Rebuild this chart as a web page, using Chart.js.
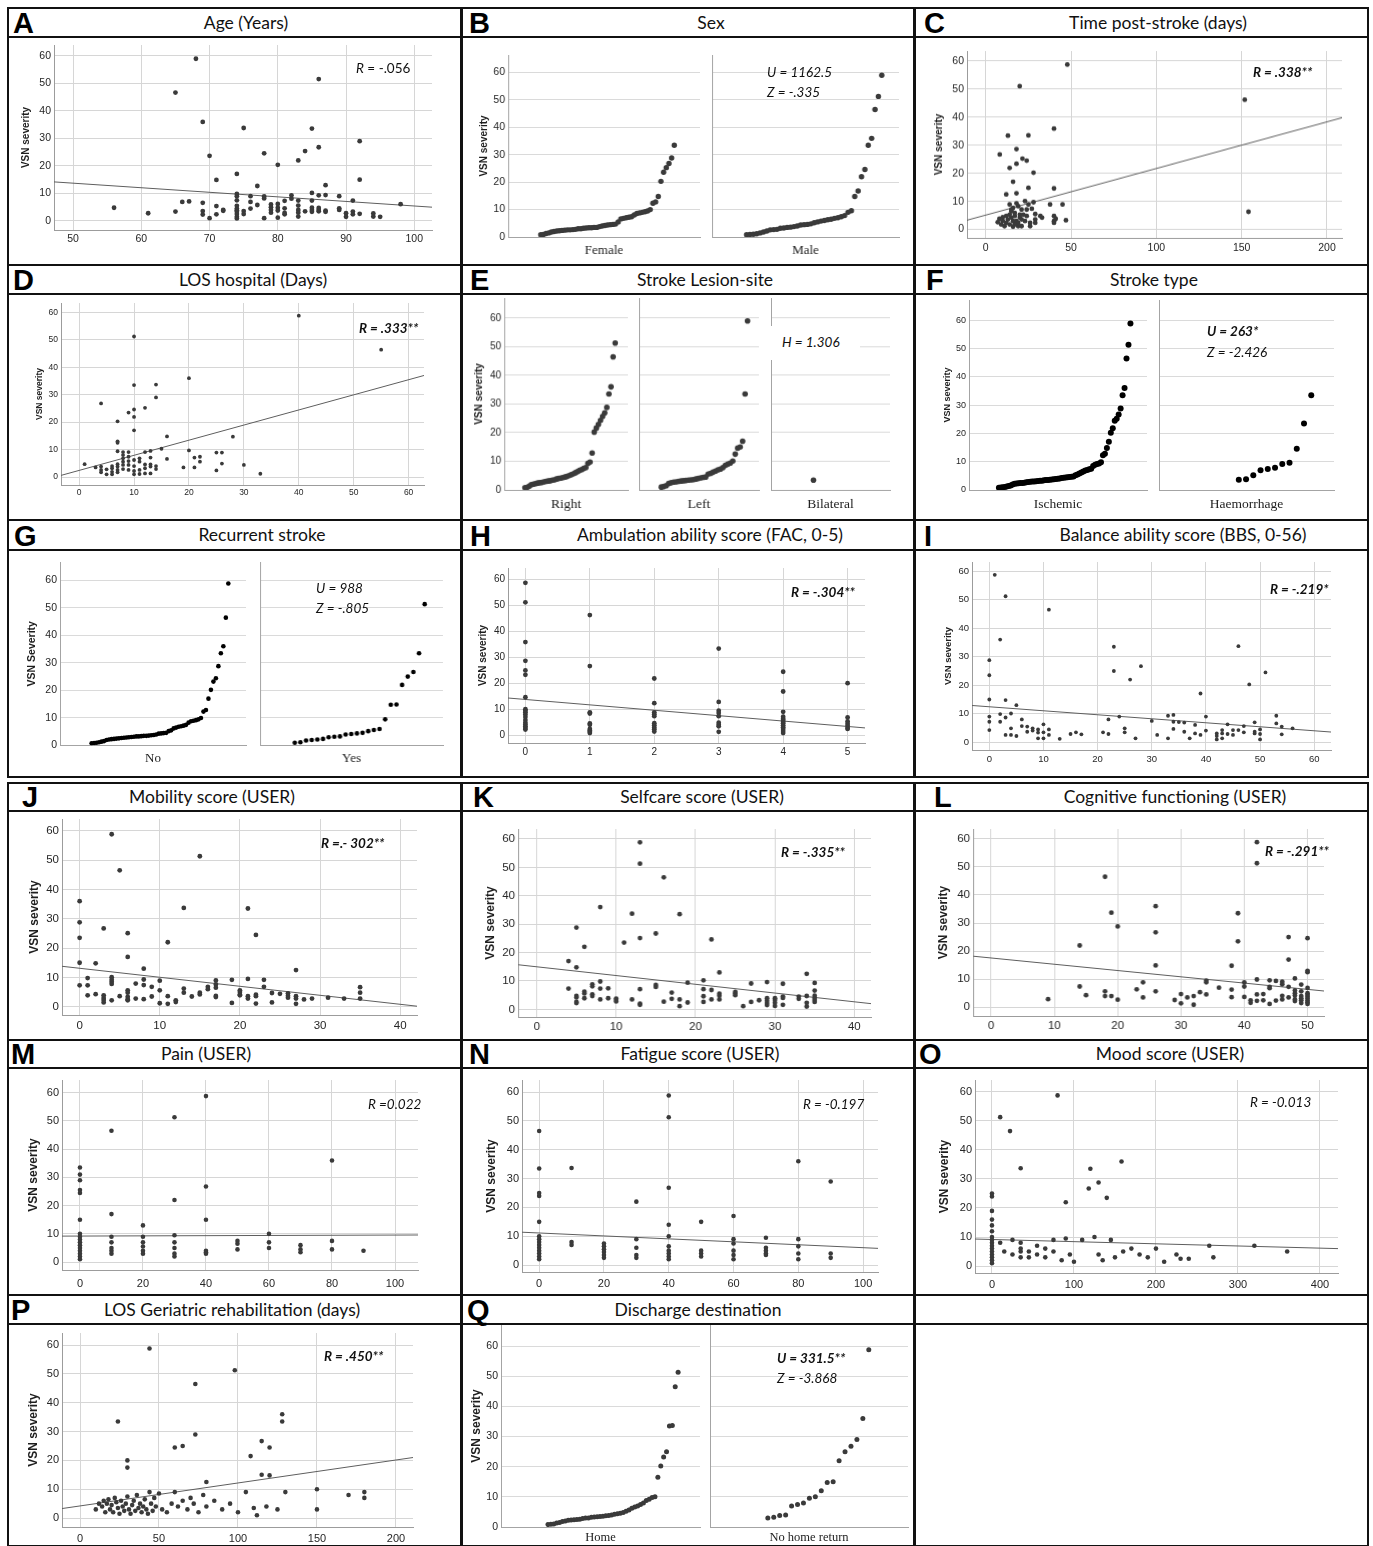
<!DOCTYPE html>
<html><head><meta charset="utf-8">
<script src="https://cdn.jsdelivr.net/npm/chart.js@4.4.0/dist/chart.umd.min.js"></script>
<style>
body{margin:0;background:#fff;width:1373px;height:1546px;position:relative;overflow:hidden;font-family:'Liberation Sans',Arial,sans-serif}
.cell{position:absolute;border:2px solid #111;box-sizing:border-box}
.bar{position:absolute;left:0;right:0;top:0;border-bottom:2px solid #111}
.letter{position:absolute;font:bold 29px 'Liberation Sans';color:#000;line-height:1}
.title{position:absolute;font:17.5px Lato;color:#111;transform:translateX(-50%);white-space:nowrap;text-align:center}
.note{position:absolute;font:italic 13.5px Lato;color:#111;white-space:nowrap;line-height:1}
.note b{font-weight:bold}
canvas{position:absolute}
</style></head><body>
<script>
// tick labels
var vsnTicks = [0, 10, 20, 30, 40, 50, 60];
var ageTicks = [50, 60, 70, 80, 90, 100];
var timeTicks = [0, 50, 100, 150, 200];
var losTicks = [0, 10, 20, 30, 40, 50, 60];
var facTicks = [0, 1, 2, 3, 4, 5];
var bbsTicks = [0, 10, 20, 30, 40, 50, 60];
var userTicks = [0, 10, 20, 30, 40];
var cogTicks = [0, 10, 20, 30, 40, 50];
var pctTicks = [0, 20, 40, 60, 80, 100];
var moodTicks = [0, 100, 200, 300, 400];
var rehabTicks = [0, 50, 100, 150, 200];

// A age
var ageData = [[56,4.8],[61,2.8],[65,46.7],[65,3.4],[66,6.9],[67,7.1],[68,59],[69,36],[69,6.6],[69,3.6],[69,2.3],[70,23.7],[70,1],[71,14.9],[71,5.4],[71,2.4],[72,4],[72,3.7],[74,17.1],[74,9.8],[74,9],[74,7.5],[74,5.5],[74,4.5],[74,3.9],[74,3.3],[74,2.5],[74,1.5],[74,0.9],[75,33.8],[75,3.6],[75,2.5],[76,9],[76,6.9],[76,4.5],[77,12.7],[77,5.8],[78,24.6],[78,8.9],[78,8.2],[78,1],[79,6],[79,5],[79,4],[79,3],[80,20.4],[80,6.2],[80,4.8],[80,3.8],[80,1.2],[81,7.3],[81,4.6],[81,2.9],[81,2.4],[82,9.3],[82,8.1],[83,22],[83,7.4],[83,5.6],[83,4],[83,3],[83,1.6],[84,25.4],[84,3.5],[85,33.6],[85,10.2],[85,7.4],[85,4.8],[85,4],[85,3.3],[86,51.6],[86,26.8],[86,9.3],[86,4.7],[86,4],[86,3.5],[87,13],[87,9.4],[87,3.7],[87,3.3],[89,9],[89,4.6],[89,4],[90,2.8],[90,1.5],[91,7.4],[91,3.4],[91,2.4],[92,29],[92,15],[92,2.6],[94,2.7],[94,1.6],[95,1.5],[98,6.1]];
var ageTrend = [[47.2,14.2],[102.6,5]];

// B sex
var sexFemale = [0.8,0.9,1.3,1.5,1.8,2,2.2,2.3,2.4,2.5,2.6,2.6,2.7,2.8,3,3,3.2,3.3,3.4,3.4,3.5,3.5,3.8,4,4.2,4.4,4.5,4.6,4.7,5.5,6.6,6.8,7,7.2,7.4,8,8.6,8.8,9,9.2,9.5,10,12.3,12.8,14.8,20.3,23.6,25.3,26.8,28.8,33.5];
var sexMale = [0.8,0.9,1,1.2,1.5,1.8,2.2,2.6,2.7,2.8,3.2,3.3,3.5,3.6,3.8,4,4.4,4.5,4.6,4.8,5.2,5.5,5.8,6,6.3,6.5,6.8,7,7.4,7.8,9,9.6,14.8,16.8,22,24.6,33.5,36,46.5,51.3,59];

// C time post-stroke
var timeData = [[47.8,58.7],[19.9,51],[151.8,46.2],[40,35.9],[13,33.4],[25,33.5],[18,28.6],[8.2,26.7],[21.5,25.2],[24,24.5],[18,23.4],[14,21.9],[28,20.2],[16,17],[25,14.8],[40,14.6],[12,12.5],[18,12.9],[14,8.9],[18,9.3],[23,10.1],[28,9.7],[25,8.9],[37.7,8.9],[45,8.9],[16,7.7],[19,8.3],[21,7.1],[24,7.1],[27,7.4],[15,6.5],[17,5.9],[20,5.3],[29,5.5],[24,4.8],[32,4.8],[33,4.2],[40,4.8],[40,3],[41,3.8],[47,3.3],[40,2.4],[29,3.6],[29,2.4],[23,3],[26,2.4],[26,1.2],[21,1.2],[19,1.2],[16,1],[14,1.8],[12,2.4],[10,3],[8,3.8],[9,1.8],[7,2.6],[11,1.2],[13,3.6],[15,4.2],[17,4.8],[18,3],[20,4.2],[22,5.3],[14,5.3],[16,3],[19,2.4],[10,4.4],[12,4.8],[21,3.6],[17,1.8],[15,7.1],[154,6.3]];
var timeTrend = [[-11,3.3],[209,39.8]];

// D LOS hospital
var losData = [[40,58.8],[10,51.2],[55,46.4],[20,36],[10,33.5],[14,33.7],[14,29],[4,26.8],[12,25.2],[10,24.6],[9,23.5],[10,21.9],[7,20.3],[10,17],[16,14.8],[28,14.7],[7,13],[7,12.5],[15,10.3],[20,9.7],[7,9.4],[8,9.1],[9,9.1],[12,9.1],[13,9.5],[25,8.9],[26,8.9],[21,7.1],[22,7.4],[22,5.6],[16,6.6],[1,4.7],[3,3.5],[4,3.8],[4,2.6],[4,1.7],[5,2.8],[5,1],[6,4],[6,3.2],[6,1.9],[6,1],[7,4.7],[7,3.8],[7,2.6],[7,1.7],[8,8],[8,6.8],[8,5.6],[8,4.4],[8,2.9],[9,7.4],[9,5.8],[9,4.4],[9,2.6],[10,6.2],[10,4],[10,2.2],[10,1],[11,6.8],[11,5.6],[11,2.6],[11,1.1],[12,4.6],[12,3.2],[12,1.3],[13,7.1],[13,4.6],[13,3.8],[13,1.3],[14,4],[14,2.9],[19,3.5],[21,3.5],[25,2.4],[26,4.9],[30,4.4],[33,1.2]];
var losTrend = [[-3.3,0.6],[62.8,37]];

// E lesion site
var lesionRight = [0.8,0.9,1.3,1.8,2,2.2,2.4,2.5,2.6,2.8,3,3.1,3.2,3.4,3.5,3.8,4,4.1,4.3,4.5,4.7,5,5.3,5.6,6,6.4,6.8,7.1,7.5,7.8,9.3,9.7,12.9,20.2,21.6,22.9,24.3,25.7,26.9,28.8,33.5,36,46.5,51.3];
var lesionLeft = [1,1.2,1.5,2.3,2.5,2.7,2.8,3,3.1,3.2,3.3,3.4,3.5,3.6,3.8,4,4.2,4.4,4.5,5.5,5.8,6.2,6.6,7,7.3,7.8,8.6,9,9.4,10.1,12.5,14.6,15,17,33.5,59];
var lesionBilateral = [3.4];

// F stroke type
var typeIschemic = [0.8,0.9,1,1.1,1.2,1.4,1.6,1.9,2.2,2.3,2.4,2.5,2.5,2.6,2.7,2.8,2.9,3,3,3.1,3.2,3.3,3.3,3.4,3.5,3.5,3.6,3.7,3.8,3.9,4,4.1,4.2,4.3,4.4,4.5,4.6,4.7,4.8,5.2,5.5,5.8,6.2,6.5,6.9,7.1,7.3,7.5,8.5,8.9,9.2,9.4,9.8,12.3,12.8,14.8,17,20.2,21.8,24.5,25.2,26.7,28.8,33.5,36,46.4,51.3,58.8];
var typeHaem = [3.6,3.8,5.2,7,7.4,7.9,9.2,9.6,14.6,23.5,33.5];

// G recurrent stroke
var recurNo = [0.8,0.9,1,1.2,1.4,1.6,2,2.2,2.3,2.4,2.5,2.6,2.7,2.8,2.9,3,3.1,3.2,3.3,3.3,3.4,3.5,3.5,3.6,3.7,3.8,4,4.3,4.4,4.5,4.6,5.2,5.5,6.2,6.5,6.8,7,7.2,7.5,8.3,8.8,9,9.2,9.5,10,12.3,12.9,17,20.2,23.2,24.4,28.8,33.5,36,46.4,58.8];
var recurYes = [1,1.2,1.8,2,2.2,2.4,3,3.2,3.3,4,4.2,4.4,4.6,5.2,5.6,6,9.5,14.8,14.9,22,25,26.7,33.5,51.3];

// H FAC
var facData = [[0,58.8],[0,51.3],[0,36],[0,28.8],[0,25.1],[0,23.4],[0,14.8],[0,10.2],[0,9.6],[0,9],[0,8.2],[0,7.2],[0,6],[0,5],[0,4.3],[0,3.6],[0,3],[0,2.4],[1,46.4],[1,26.8],[1,9],[1,8.5],[1,4.7],[1,4.2],[1,2.6],[1,2],[1,1.5],[1,1],[2,22],[2,12.5],[2,9],[2,8.3],[2,7.5],[2,4.8],[2,4],[2,3.2],[2,2.5],[2,1.6],[3,33.5],[3,13],[3,9.6],[3,8.7],[3,7.5],[3,5],[3,4.2],[3,3.6],[3,1.5],[4,24.6],[4,17],[4,9.2],[4,7.3],[4,6.5],[4,6],[4,5.4],[4,4.8],[4,4],[4,3.3],[4,2.6],[4,1.8],[4,1],[5,20.2],[5,7],[5,5.5],[5,4.6],[5,3.8],[5,3],[5,2.6]];
var facTrend = [[-0.27,14.5],[5.27,3]];

// I BBS
var bbsData = [[1,58.7],[3,51.2],[11,46.5],[2,36],[0,28.8],[0,23.5],[0,15],[3,14.8],[5,13],[2,9.9],[4,10.1],[0,9],[3,8.7],[0,7.2],[2,7.2],[0,4.3],[6,8],[6,5.7],[4,4.9],[7,5.5],[7,3.7],[8,4.9],[8,4.1],[9,4.5],[9,3.4],[9,1.4],[10,6.3],[10,3.5],[10,1.4],[11,4.5],[11,2.6],[3,2.6],[4,2.6],[5,2.2],[13,1.2],[15,2.9],[16,3.5],[17,2.8],[21,3.5],[22,2.9],[22,8],[23,33.5],[23,25],[24,9],[25,4.9],[25,3.5],[26,22],[27,1.4],[28,26.7],[30,7.5],[31,2.6],[33,1.4],[33,9.3],[34,9.6],[34,7.2],[34,4.7],[35,7.1],[36,6.9],[36,3.7],[37,1.4],[38,6.1],[38,3.1],[39,2.6],[39,17.1],[40,9],[40,4.1],[42,3.1],[42,2.2],[42,1],[43,4.3],[43,3.1],[43,1.4],[44,6.3],[44,2.9],[45,4.3],[45,2.6],[46,33.7],[46,4.3],[47,5.7],[47,3.5],[48,20.3],[49,7],[49,3.7],[49,3.1],[50,4.5],[50,2.9],[50,1],[51,24.5],[53,9.3],[53,6.6],[54,5.5],[54,2.8],[56,4.9]];
var bbsTrend = [[-3.2,12.9],[63.1,3.6]];

// J mobility
var mobData = [[0,36],[0,28.8],[0,23.5],[0,15],[0,7.3],[1,9.8],[1,7.3],[1,3.9],[2,14.8],[2,4.3],[3,26.7],[3,3.9],[3,3],[3,2.3],[3,1.5],[4,58.8],[4,10.1],[4,9.2],[4,8.5],[4,7.8],[4,2.2],[5,46.5],[5,3.6],[6,25.1],[6,17],[6,5.6],[6,4.8],[6,3.4],[6,2.6],[6,2.2],[7,7.9],[7,2.8],[8,13],[8,9.3],[8,7.4],[8,2.6],[9,6.8],[9,3.5],[10,8.9],[10,5.6],[10,1.2],[11,22],[11,3.6],[11,1],[12,2.2],[12,1.6],[13,33.7],[13,6.2],[13,4.8],[14,3.5],[15,51.3],[15,4.8],[15,4.2],[16,6.8],[16,6],[17,9],[17,7.6],[17,6.5],[17,3.7],[17,3.3],[19,9.2],[19,1.3],[20,5.6],[20,5],[20,4.2],[20,3.9],[21,33.5],[21,9.5],[21,3.6],[21,2.8],[22,24.5],[22,4.1],[22,3.6],[22,1.1],[23,9.2],[23,6.8],[24,4.7],[24,1.5],[25,4.4],[26,4.6],[26,3.8],[26,3.1],[27,12.5],[27,3.6],[27,2.8],[27,1],[28,2.5],[29,2.8],[31,3.1],[33,2.8],[35,6.7],[35,4.8],[35,2.8]];
var mobTrend = [[-2.2,13.8],[42.1,0.2]];

// K selfcare
var selfData = [[4,17],[4,7.3],[5,28.8],[5,14.8],[5,4.7],[5,4.2],[5,2.6],[5,2.2],[6,22],[6,6.2],[6,5.6],[6,3.9],[7,8.8],[7,8.1],[7,5.3],[7,4.7],[8,36],[8,9.8],[8,7.3],[8,3.5],[9,7.4],[9,3.9],[10,3.8],[10,3.3],[10,2.8],[11,23.5],[12,33.7],[12,3.5],[13,58.8],[13,51.3],[13,25.1],[13,7.1],[13,2],[13,1.6],[15,26.7],[15,8.6],[15,7.9],[16,46.5],[16,2.7],[17,5.9],[17,3.7],[18,33.5],[18,3.5],[18,1.1],[19,9.4],[19,2.4],[21,10.2],[21,7.1],[21,4.6],[21,2.6],[22,24.6],[22,6.8],[22,3.5],[23,13],[23,5.5],[23,4.8],[23,3.5],[25,6.1],[25,5.6],[25,5],[26,1.1],[27,9.1],[27,2.6],[28,3.2],[29,9.6],[29,3.9],[29,3],[29,2.2],[29,1.5],[30,3.9],[30,3.3],[30,2.3],[30,1.2],[31,9],[31,4.5],[31,4],[31,1.6],[33,4.5],[33,3.7],[34,12.5],[34,4.7],[34,2.3],[34,1],[35,9.3],[35,6.6],[35,4.8],[35,4],[35,3.3],[35,2.6]];
var selfTrend = [[-2.35,15.7],[42.1,2]];

// L cognitive
var cogData = [[9,2.9],[14,22],[14,7.4],[15,4.3],[18,46.5],[18,5.7],[18,4],[19,33.7],[19,4],[20,28.8],[20,2.7],[23,6.4],[24,8.9],[24,3.5],[26,36],[26,26.7],[26,14.9],[26,5.7],[29,2.6],[30,4.7],[30,1.4],[31,3.5],[32,4],[32,0.9],[33,5.4],[34,9.5],[34,8.9],[34,4.6],[36,7],[38,14.8],[38,6.3],[38,3.6],[39,33.5],[39,23.5],[40,8.9],[40,7.4],[40,3.7],[41,2.5],[41,1.6],[42,58.8],[42,51.3],[42,9.9],[42,4.6],[42,2.3],[43,4.7],[43,2.5],[44,9.6],[44,7.3],[44,6.8],[44,1.2],[45,9.4],[45,2.4],[46,9.1],[46,8.2],[46,4.1],[46,2.8],[47,25],[47,17],[47,7.3],[47,3.5],[48,10.3],[48,6],[48,5],[48,4.2],[48,2.8],[48,2.2],[49,8.1],[49,5.7],[49,4],[49,3.2],[49,2.5],[49,1.5],[50,24.6],[50,13],[50,12.5],[50,6.9],[50,5],[50,4.4],[50,3.8],[50,3.1],[50,2.4],[50,1.8],[50,1.2]];
var cogTrend = [[-2.85,18.2],[52.6,5.8]];

// M pain
var painData = [[0,33.5],[0,31],[0,29],[0,25.5],[0,24.5],[0,15],[0,10],[0,9],[0,8],[0,7],[0,6],[0,5],[0,4],[0,3],[0,2],[0,1],[10,46.5],[10,17],[10,9],[10,7],[10,5],[10,4],[10,3],[20,13],[20,9],[20,7],[20,5.5],[20,4],[20,3],[30,51.3],[30,22],[30,9.5],[30,7],[30,5],[30,3],[30,2],[40,58.8],[40,26.8],[40,15],[40,4],[40,3.5],[40,3],[50,7.5],[50,6.5],[50,4.5],[60,10],[60,7],[60,5],[70,6],[70,4.5],[70,3.5],[80,36],[80,7.5],[80,4.5],[90,4]];
var painTrend = [[-5.7,9.2],[107.3,9.6]];

// N fatigue
var fatigueData = [[0,46.5],[0,33.5],[0,25],[0,24],[0,15],[0,10],[0,9],[0,8],[0,7],[0,6],[0,5],[0,4],[0,3],[0,2],[10,33.7],[10,8],[10,7],[20,7.5],[20,6.5],[20,5.5],[20,4.5],[20,3.5],[20,2.5],[30,22],[30,9],[30,6],[30,3.5],[30,2.5],[40,58.8],[40,51.3],[40,26.8],[40,14],[40,10],[40,6.5],[40,5],[40,4],[40,3],[40,2],[50,15],[50,5],[50,4],[50,3],[60,17],[60,9],[60,7.5],[60,5],[60,3.5],[60,2],[70,9.5],[70,6],[70,5],[70,4],[70,3.5],[80,36],[80,9],[80,6.5],[80,4],[80,2],[90,29],[90,4],[90,2.5]];
var fatigueTrend = [[-5.3,11.4],[104.6,5.8]];

// O mood
var moodData = [[0,25],[0,24],[0,19],[0,16],[0,14],[0,12],[0,10],[0,9],[0,8],[0,7],[0,6],[0,5],[0,4],[0,3],[0,2],[0,1],[10,51.3],[10,8],[15,5],[22,46.5],[25,9],[25,4],[35,33.7],[35,8],[35,6],[35,5],[35,3],[45,5],[45,3],[55,7],[55,4],[65,6],[65,3],[75,9],[75,5],[80,58.8],[85,2],[90,22],[90,9.5],[95,4],[100,1.5],[110,9],[118,26.7],[120,33.5],[125,10],[130,28.8],[130,4],[135,2],[140,23.5],[145,9],[150,3],[158,36],[160,5],[170,6],[180,4],[190,3],[200,6],[210,1.5],[225,4],[230,2.5],[240,2.5],[265,7],[270,3],[320,7],[360,5]];
var moodTrend = [[-20.7,9.3],[422,6]];

// P LOS geriatric rehabilitation
var rehabData = [[24,33.5],[30,20],[30,17.5],[44,58.8],[60,24.5],[65,25],[73,46.5],[73,29],[80,12.5],[98,51.3],[108,21.5],[115,26.7],[115,15],[120,24.5],[120,14.8],[128,36],[128,33.5],[150,10],[150,3],[170,8],[180,9],[180,7],[10,3],[12,5],[14,4],[15,6],[16,2],[17,5],[18,6.5],[19,3],[20,4.5],[21,2],[22,7],[23,5.5],[24,3.5],[25,1.5],[26,6],[27,4],[28,2.5],[29,5],[30,7.5],[31,3],[32,1.5],[33,4.5],[34,6],[35,2.5],[36,8],[37,3.5],[38,5],[39,2],[40,4],[41,6.5],[42,3],[43,1.5],[44,9],[45,5],[46,2.5],[47,7],[48,4],[50,8.5],[52,3],[55,2],[58,5],[60,9],[62,4],[65,6],[68,3],[70,7],[72,5],[75,2],[78,8],[80,4],[85,6],[90,3],[95,5],[100,2],[105,9],[110,3.5],[112,1],[118,4],[125,3],[130,9]];
var rehabTrend = [[-11.4,3.3],[210.8,21]];

// Q discharge destination
var dischHome = [0.8,0.9,1,1.3,1.5,1.8,2,2.2,2.3,2.4,2.5,2.6,2.8,3,3,3.2,3.3,3.4,3.5,3.6,3.7,3.8,4,4.2,4.4,4.6,4.8,5.2,5.6,6.2,6.6,7,7.5,8,8.8,9.2,9.8,10,16.5,20.2,23.2,25,33.5,33.7,46.5,51.3];
var dischNoHome = [3,3.2,3.8,4,7,7.5,8,9.5,10,12,14.8,15,22,25,26.8,29,36,58.8];

Chart.defaults.font.family = 'Liberation Sans';

var cols = [8, 461, 914];
var rows = [[8,35,265],[265,292,520],[520,548,777],[783,809,1040],[1040,1066,1295],[1295,1322,1546]];

function cell(col, row, letter, lx, title, tx) {
  var r = rows[row], x = cols[col];
  var d = document.createElement('div');
  d.className = 'cell';
  d.style.left = (x - 1) + 'px';
  d.style.top = (r[0] - 1) + 'px';
  d.style.width = '456px';
  d.style.height = (r[2] - r[0] + 2) + 'px';
  var b = document.createElement('div');
  b.className = 'bar';
  b.style.height = (r[1] - r[0]) + 'px';
  d.appendChild(b);
  document.body.appendChild(d);
  if (!letter) return;
  var l = document.createElement('div');
  l.className = 'letter';
  l.textContent = letter;
  l.style.left = (x + lx) + 'px';
  l.style.top = (r[1] - 26) + 'px';
  document.body.appendChild(l);
  var t = document.createElement('div');
  t.className = 'title';
  t.textContent = title;
  t.style.left = tx + 'px';
  t.style.top = (r[0] + 1) + 'px';
  t.style.lineHeight = (r[1] - r[0]) + 'px';
  document.body.appendChild(t);
}

function note(html, x, y, bg) {
  var n = document.createElement('div');
  n.className = 'note';
  n.innerHTML = html;
  n.style.left = x + 'px';
  n.style.top = (y - 7) + 'px';
  if (bg) { n.style.background = '#fff'; n.style.padding = bg; }
  document.body.appendChild(n);
}

function makeCanvas(left, top, w, h) {
  var c = document.createElement('canvas');
  c.style.left = left + 'px';
  c.style.top = top + 'px';
  c.width = w; c.height = h;
  c.style.width = w + 'px';
  c.style.height = h + 'px';
  document.body.appendChild(c);
  return c;
}

function fixTicks(list) {
  return function (s) { s.ticks = list.map(function (v) { return {value: v}; }); };
}

function scatter(o) {
  var m = 12, xh = 24;
  var b = o.box;
  var c = makeCanvas(b[0] - o.yw, b[1] - m, b[2] - b[0] + o.yw + m, b[3] - b[1] + m + xh);
  new Chart(c, {
    type: 'scatter',
    data: {datasets: [
      {data: o.pts.map(function (p) { return {x: p[0], y: p[1]}; }), pointRadius: o.r || 2.4,
       pointBackgroundColor: '#3a3a3a', pointBorderWidth: 0},
      {data: o.trend.map(function (p) { return {x: p[0], y: p[1]}; }), showLine: true, pointRadius: 0,
       borderColor: '#5e5e5e', borderWidth: 1, fill: false}
    ]},
    options: {
      responsive: false, animation: false, events: [],
      plugins: {legend: {display: false}, tooltip: {enabled: false}},
      layout: {padding: {top: m, right: m, left: 0, bottom: 0}},
      scales: {
        x: {type: 'linear', min: o.xr[0], max: o.xr[1], afterBuildTicks: fixTicks(o.xticks),
            grid: {color: '#d6d6d6', drawTicks: false}, border: {color: '#9c9c9c'},
            ticks: {font: {size: o.fs}, color: '#262626', padding: o.xp, maxRotation: 0},
            afterFit: function (s) { s.height = xh; }},
        y: {min: o.yr[0], max: o.yr[1], afterBuildTicks: fixTicks(vsnTicks),
            grid: {color: '#d6d6d6', drawTicks: false}, border: {color: '#9c9c9c'},
            ticks: {font: {size: o.fs}, color: '#262626', padding: 3},
            title: {display: true, text: 'VSN severity', color: '#1e1e1e', padding: 0,
                    font: {size: o.tfs, weight: 'bold'}},
            afterFit: function (s) { s.width = o.yw; }}
      }
    }
  });
}

function rankRange(n, s0, s1) {
  if (n < 2) return [-s0, 1 - s0];
  var w = (n - 1) / (s1 - s0);
  var mn = -s0 * w;
  return [mn, mn + w];
}

function facets(o) {
  o.groups.forEach(function (vals, i) {
    var m = 12;
    var first = i === 0;
    var yw = first ? o.yw : 0;
    var l = o.cols[i][0], r = o.cols[i][1];
    var c = makeCanvas(l - yw, o.top - m, r - l + yw + m, o.bottom - o.top + m + o.xh);
    var xr = rankRange(vals.length, o.spans[i][0], o.spans[i][1]);
    new Chart(c, {
      type: 'scatter',
      data: {datasets: [{data: vals.map(function (v, k) { return {x: k, y: v}; }), pointRadius: o.r,
                         pointBackgroundColor: o.color, pointBorderWidth: 0}]},
      options: {
        responsive: false, animation: false, events: [],
        plugins: {legend: {display: false}, tooltip: {enabled: false}},
        layout: {padding: {top: m, right: m, left: 0, bottom: 0}},
        scales: {
          x: {type: 'linear', min: xr[0], max: xr[1], grid: {display: false}, border: {color: '#a4a4a4'},
              ticks: {display: false},
              title: {display: true, text: o.labels[i], color: '#222', padding: 0,
                      font: {family: 'Liberation Serif', size: o.lfs || 13}},
              afterFit: function (s) { s.height = o.xh; }},
          y: {min: o.yr[0], max: o.yr[1], afterBuildTicks: fixTicks(vsnTicks),
              grid: {color: '#dadada', drawTicks: false}, border: {color: '#a4a4a4'},
              ticks: {display: first, font: {size: o.fs}, color: '#262626', padding: 3},
              title: {display: first, text: o.ytitle || 'VSN severity', color: '#1e1e1e', padding: 0,
                      font: {size: o.tfs, weight: 'bold'}},
              afterFit: function (s) { s.width = yw; }}
        }
      }
    });
  });
}

// frame
cell(0, 0, 'A', 5, 'Age (Years)', 246);
cell(1, 0, 'B', 8, 'Sex', 711);
cell(2, 0, 'C', 10, 'Time post-stroke (days)', 1158);
cell(0, 1, 'D', 5, 'LOS hospital (Days)', 253);
cell(1, 1, 'E', 9, 'Stroke Lesion-site', 705);
cell(2, 1, 'F', 12, 'Stroke type', 1154);
cell(0, 2, 'G', 6, 'Recurrent stroke', 262);
cell(1, 2, 'H', 9, 'Ambulation ability score (FAC, 0-5)', 710);
cell(2, 2, 'I', 10, 'Balance ability score  (BBS, 0-56)', 1183);
cell(0, 3, 'J', 14, 'Mobility score (USER)', 212);
cell(1, 3, 'K', 12, 'Selfcare score (USER)', 702);
cell(2, 3, 'L', 20, 'Cognitive functioning (USER)', 1175);
cell(0, 4, 'M', 3, 'Pain (USER)', 206);
cell(1, 4, 'N', 8, 'Fatigue score  (USER)', 700);
cell(2, 4, 'O', 5, 'Mood score (USER)', 1170);
cell(0, 5, 'P', 3, 'LOS Geriatric rehabilitation (days)', 232);
cell(1, 5, 'Q', 6, 'Discharge destination', 698);
cell(2, 5, '', 0, '', 0);

// charts
scatter({box: [54,45,432,230], xr: [47.2,102.6], yr: [-3.3,64], xticks: ageTicks, pts: ageData, trend: ageTrend, fs: 10.5, xp: 2.7, yw: 34, tfs: 10});
facets({groups: [sexFemale, sexMale], labels: ['Female', 'Male'], cols: [[508.3,700],[708.3,899]], spans: [[0.17,0.866],[0.185,0.908]], top: 54.7, bottom: 237.3, yr: [0,66.4], yw: 30, fs: 10.5, tfs: 10, r: 2.7, color: '#3a3a3a', xh: 21});
scatter({box: [966.7,51.3,1342,238], xr: [-11,208.8], yr: [-3,63.5], xticks: timeTicks, pts: timeData, trend: timeTrend, fs: 10.5, xp: 3.7, yw: 34, tfs: 10});
scatter({box: [60.7,303,424,485], xr: [-3.3,62.8], yr: [-2.9,63.4], xticks: losTicks, pts: losData, trend: losTrend, fs: 8.5, xp: 2.6, yw: 26, tfs: 8.5, r: 1.9});
facets({groups: [lesionRight, lesionLeft, lesionBilateral], labels: ['Right', 'Left', 'Bilateral'], cols: [[504.3,627.7],[635.3,758.7],[767,890.3]], spans: [[0.168,0.897],[0.186,0.905],[0.357,0.357]], top: 298.3, bottom: 490, yr: [0,67], yw: 31, fs: 10, tfs: 10, r: 2.8, color: '#3a3a3a', xh: 23, lfs: 13.5});
facets({groups: [typeIschemic, typeHaem], labels: ['Ischemic', 'Haemorrhage'], cols: [[969,1147.3],[1155,1334]], spans: [[0.168,0.907],[0.456,0.87]], top: 300, bottom: 490, yr: [0,67.1], yw: 27, fs: 9, tfs: 9, r: 3, color: '#000', xh: 23, lfs: 13.5});
facets({groups: [recurNo, recurYes], labels: ['No', 'Yes'], cols: [[59.7,246.3],[256.3,443]], spans: [[0.17,0.905],[0.19,0.9]], top: 561.7, bottom: 745.7, yr: [0,66.6], yw: 34, fs: 10.5, tfs: 10.5, r: 2.3, color: '#000', xh: 20.5, ytitle: 'VSN Severity'});
scatter({box: [507.7,568.3,865,743.3], xr: [-0.27,5.27], yr: [-2.8,64.5], xticks: facTicks, pts: facData, trend: facTrend, fs: 10, xp: 3, yw: 31, tfs: 10});
scatter({box: [971.7,561.7,1330.7,750], xr: [-3.2,63.1], yr: [-2.7,63.2], xticks: bbsTicks, pts: bbsData, trend: bbsTrend, fs: 9.5, xp: 3.3, yw: 29, tfs: 9.5, r: 1.9});
scatter({box: [62,818.7,417.3,1015.3], xr: [-2.2,42.1], yr: [-2.8,64], xticks: userTicks, pts: mobData, trend: mobTrend, fs: 11.5, xp: 4.1, yw: 35, tfs: 12});
scatter({box: [518.3,828.7,871,1017], xr: [-2.35,42.1], yr: [-2.7,63.5], xticks: userTicks, pts: selfData, trend: selfTrend, fs: 11.5, xp: 3.1, yw: 35, tfs: 12});
scatter({box: [973.3,828.7,1324,1016.3], xr: [-2.85,52.6], yr: [-3.1,63.5], xticks: cogTicks, pts: cogData, trend: cogTrend, fs: 11.5, xp: 3.1, yw: 37, tfs: 12});
scatter({box: [62,1080,418,1270], xr: [-5.7,107.3], yr: [-2.8,64.5], xticks: pctTicks, pts: painData, trend: painTrend, fs: 11, xp: 7.4, yw: 36, tfs: 12, r: 2.3});
scatter({box: [522,1080,878,1272], xr: [-5.3,104.6], yr: [-2.4,64.2], xticks: pctTicks, pts: fatigueData, trend: fatigueTrend, fs: 11, xp: 5.4, yw: 38, tfs: 12, r: 2.3});
scatter({box: [975,1080,1338,1273], xr: [-20.7,422], yr: [-2.4,64.1], xticks: moodTicks, pts: moodData, trend: moodTrend, fs: 11, xp: 5.4, yw: 38, tfs: 12, r: 2.3});
scatter({box: [62,1333,413,1527], xr: [-11.4,210.8], yr: [-3.1,64.2], xticks: rehabTicks, pts: rehabData, trend: rehabTrend, fs: 11, xp: 5.4, yw: 36, tfs: 12, r: 2.3});
facets({groups: [dischHome, dischNoHome], labels: ['Home', 'No home return'], cols: [[501,700],[706,908]], spans: [[0.236,0.89],[0.292,0.802]], top: 1325, bottom: 1527, yr: [0,67], yw: 32, fs: 10.5, tfs: 12, r: 2.5, color: '#3a3a3a', xh: 18, lfs: 12.5});

// statistics
note('R<span style="font-style:normal"> = -.056</span>', 356, 69);
note('U = 1162.5', 767, 73);
note('Z = -.335', 767, 93);
note('<b>R = .338**</b>', 1253, 73);
note('<b>R = .333**</b>', 359, 329);
note('H = 1.306', 770, 333, '10px 20px 10px 12px');
note('<b>U = 263*</b>', 1207, 332);
note('Z = -2.426', 1207, 353);
note('U = 988', 316, 589);
note('Z = -.805', 316, 609);
note('<b>R = -.304**</b>', 791, 593);
note('<b>R = -.219*</b>', 1270, 590);
note('<b>R =.- 302**</b>', 321, 844);
note('<b>R = -.335**</b>', 781, 853);
note('<b>R = -.291**</b>', 1265, 852);
note('R =0.022', 368, 1105);
note('R = -0.197', 803, 1105);
note('R = -0.013', 1250, 1103);
note('<b>R = .450**</b>', 324, 1357);
note('<b>U = 331.5**</b>', 777, 1359);
note('Z = -3.868', 777, 1379);
</script>
</body></html>
